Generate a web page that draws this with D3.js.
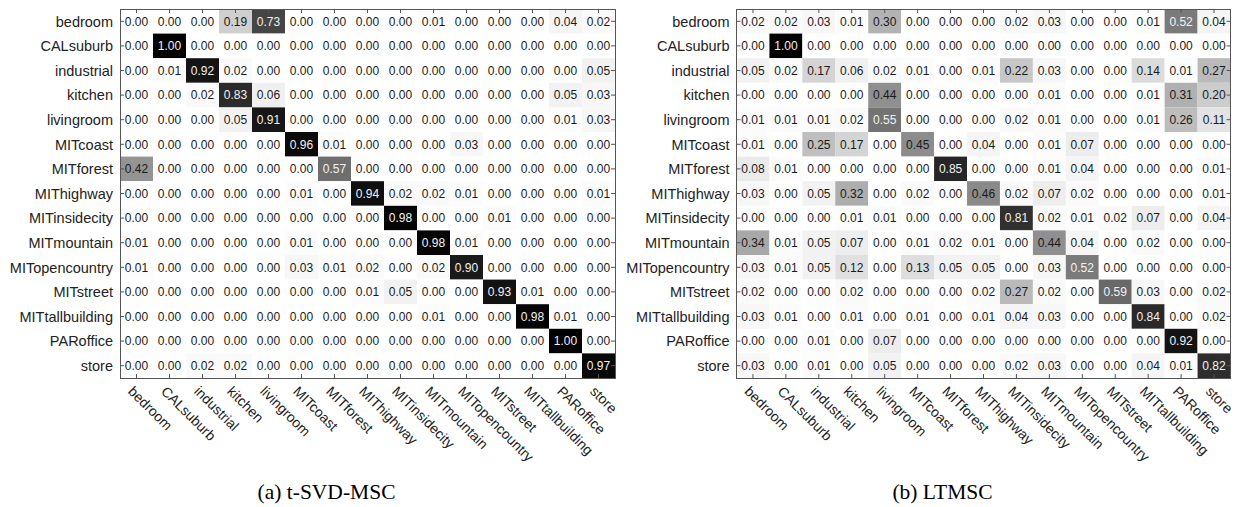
<!DOCTYPE html>
<html>
<head>
<meta charset="utf-8">
<script src="https://cdn.jsdelivr.net/npm/d3@7"></script>
<style>
  html, body { margin: 0; padding: 0; background: #fff; }
  svg { display: block; }
</style>
</head>
<body>
<svg id="chart" width="1235" height="507"></svg>
<script>
// Scene categories (rows = true class, columns = predicted class)
const categories = [
  "bedroom", "CALsuburb", "industrial", "kitchen", "livingroom",
  "MITcoast", "MITforest", "MIThighway", "MITinsidecity", "MITmountain",
  "MITopencountry", "MITstreet", "MITtallbuilding", "PARoffice", "store"
];

// Confusion matrix for t-SVD-MSC
const tsvdMatrix = [
  [0.00, 0.00, 0.00, 0.19, 0.73, 0.00, 0.00, 0.00, 0.00, 0.01, 0.00, 0.00, 0.00, 0.04, 0.02],
  [0.00, 1.00, 0.00, 0.00, 0.00, 0.00, 0.00, 0.00, 0.00, 0.00, 0.00, 0.00, 0.00, 0.00, 0.00],
  [0.00, 0.01, 0.92, 0.02, 0.00, 0.00, 0.00, 0.00, 0.00, 0.00, 0.00, 0.00, 0.00, 0.00, 0.05],
  [0.00, 0.00, 0.02, 0.83, 0.06, 0.00, 0.00, 0.00, 0.00, 0.00, 0.00, 0.00, 0.00, 0.05, 0.03],
  [0.00, 0.00, 0.00, 0.05, 0.91, 0.00, 0.00, 0.00, 0.00, 0.00, 0.00, 0.00, 0.00, 0.01, 0.03],
  [0.00, 0.00, 0.00, 0.00, 0.00, 0.96, 0.01, 0.00, 0.00, 0.00, 0.03, 0.00, 0.00, 0.00, 0.00],
  [0.42, 0.00, 0.00, 0.00, 0.00, 0.00, 0.57, 0.00, 0.00, 0.00, 0.00, 0.00, 0.00, 0.00, 0.00],
  [0.00, 0.00, 0.00, 0.00, 0.00, 0.01, 0.00, 0.94, 0.02, 0.02, 0.01, 0.00, 0.00, 0.00, 0.01],
  [0.00, 0.00, 0.00, 0.00, 0.00, 0.00, 0.00, 0.00, 0.98, 0.00, 0.00, 0.01, 0.00, 0.00, 0.00],
  [0.01, 0.00, 0.00, 0.00, 0.00, 0.01, 0.00, 0.00, 0.00, 0.98, 0.01, 0.00, 0.00, 0.00, 0.00],
  [0.01, 0.00, 0.00, 0.00, 0.00, 0.03, 0.01, 0.02, 0.00, 0.02, 0.90, 0.00, 0.00, 0.00, 0.00],
  [0.00, 0.00, 0.00, 0.00, 0.00, 0.00, 0.00, 0.01, 0.05, 0.00, 0.00, 0.93, 0.01, 0.00, 0.00],
  [0.00, 0.00, 0.00, 0.00, 0.00, 0.00, 0.00, 0.00, 0.00, 0.01, 0.00, 0.00, 0.98, 0.01, 0.00],
  [0.00, 0.00, 0.00, 0.00, 0.00, 0.00, 0.00, 0.00, 0.00, 0.00, 0.00, 0.00, 0.00, 1.00, 0.00],
  [0.00, 0.00, 0.02, 0.02, 0.00, 0.00, 0.00, 0.00, 0.00, 0.00, 0.00, 0.00, 0.00, 0.00, 0.97]
];

// Confusion matrix for LTMSC
const ltmscMatrix = [
  [0.02, 0.02, 0.03, 0.01, 0.30, 0.00, 0.00, 0.00, 0.02, 0.03, 0.00, 0.00, 0.01, 0.52, 0.04],
  [0.00, 1.00, 0.00, 0.00, 0.00, 0.00, 0.00, 0.00, 0.00, 0.00, 0.00, 0.00, 0.00, 0.00, 0.00],
  [0.05, 0.02, 0.17, 0.06, 0.02, 0.01, 0.00, 0.01, 0.22, 0.03, 0.00, 0.00, 0.14, 0.01, 0.27],
  [0.00, 0.00, 0.00, 0.00, 0.44, 0.00, 0.00, 0.00, 0.00, 0.01, 0.00, 0.00, 0.01, 0.31, 0.20],
  [0.01, 0.01, 0.01, 0.02, 0.55, 0.00, 0.00, 0.00, 0.02, 0.01, 0.00, 0.00, 0.01, 0.26, 0.11],
  [0.01, 0.00, 0.25, 0.17, 0.00, 0.45, 0.00, 0.04, 0.00, 0.01, 0.07, 0.00, 0.00, 0.00, 0.00],
  [0.08, 0.01, 0.00, 0.00, 0.00, 0.00, 0.85, 0.00, 0.00, 0.01, 0.04, 0.00, 0.00, 0.00, 0.01],
  [0.03, 0.00, 0.05, 0.32, 0.00, 0.02, 0.00, 0.46, 0.02, 0.07, 0.02, 0.00, 0.00, 0.00, 0.01],
  [0.00, 0.00, 0.00, 0.01, 0.01, 0.00, 0.00, 0.00, 0.81, 0.02, 0.01, 0.02, 0.07, 0.00, 0.04],
  [0.34, 0.01, 0.05, 0.07, 0.00, 0.01, 0.02, 0.01, 0.00, 0.44, 0.04, 0.00, 0.02, 0.00, 0.00],
  [0.03, 0.01, 0.05, 0.12, 0.00, 0.13, 0.05, 0.05, 0.00, 0.03, 0.52, 0.00, 0.00, 0.00, 0.00],
  [0.02, 0.00, 0.00, 0.02, 0.00, 0.00, 0.00, 0.02, 0.27, 0.02, 0.00, 0.59, 0.03, 0.00, 0.02],
  [0.03, 0.01, 0.00, 0.01, 0.00, 0.01, 0.00, 0.01, 0.04, 0.03, 0.00, 0.00, 0.84, 0.00, 0.02],
  [0.00, 0.00, 0.01, 0.00, 0.07, 0.00, 0.00, 0.00, 0.00, 0.00, 0.00, 0.00, 0.00, 0.92, 0.00],
  [0.03, 0.00, 0.01, 0.00, 0.05, 0.00, 0.00, 0.00, 0.02, 0.03, 0.00, 0.00, 0.04, 0.01, 0.82]
];

const captions = ["(a) t-SVD-MSC", "(b) LTMSC"];

const svg = d3.select("#chart");
const sansFont = "'Liberation Sans', Arial, Helvetica, sans-serif";
const serifFont = "'Liberation Serif', 'Times New Roman', serif";

const plotTop = 9, plotBottom = 378;
const panels = [
  { matrix: tsvdMatrix, left: 120, right: 615, caption: captions[0] },
  { matrix: ltmscMatrix, left: 736.5, right: 1230.5, caption: captions[1] }
];

// Gray colormap: 0 -> white, 1 -> black
const shade = d3.scaleLinear().domain([0, 1]).range(["#ffffff", "#000000"]);
const axisColor = "#555";
const tickLen = 4;

panels.forEach(p => {
  const x = d3.scaleBand().domain(categories).range([p.left, p.right]);
  const y = d3.scaleBand().domain(categories).range([plotTop, plotBottom]);
  const g = svg.append("g");

  const cells = p.matrix.flatMap((row, i) =>
    row.map((v, j) => ({ r: categories[i], c: categories[j], v })));

  // heat cells
  g.append("g").selectAll("rect")
    .data(cells)
    .join("rect")
    .attr("x", d => x(d.c))
    .attr("y", d => y(d.r))
    .attr("width", x.bandwidth())
    .attr("height", y.bandwidth())
    .attr("fill", d => shade(d.v));

  // value annotations
  g.append("g").selectAll("text")
    .data(cells)
    .join("text")
    .attr("x", d => x(d.c) + x.bandwidth() / 2)
    .attr("y", d => y(d.r) + y.bandwidth() / 2)
    .attr("dy", "0.36em")
    .attr("text-anchor", "middle")
    .attr("font-family", sansFont)
    .attr("font-size", "12px")
    .attr("fill", d => d.v > 0.5 ? "#f2f2f2" : "#1a1a1a")
    .text(d => d.v.toFixed(2));

  // box axes with inward ticks on all four sides
  const axisG = g.append("g").attr("fill", "none").attr("stroke", axisColor).attr("stroke-width", 1);
  axisG.append("rect")
    .attr("x", p.left).attr("y", plotTop)
    .attr("width", p.right - p.left).attr("height", plotBottom - plotTop)
    .attr("shape-rendering", "crispEdges");

  const xc = c => x(c) + x.bandwidth() / 2;
  const yc = r => y(r) + y.bandwidth() / 2;
  categories.forEach(c => {
    axisG.append("line").attr("x1", xc(c)).attr("x2", xc(c)).attr("y1", plotTop).attr("y2", plotTop + tickLen);
    axisG.append("line").attr("x1", xc(c)).attr("x2", xc(c)).attr("y1", plotBottom).attr("y2", plotBottom - tickLen);
    axisG.append("line").attr("y1", yc(c)).attr("y2", yc(c)).attr("x1", p.left).attr("x2", p.left + tickLen);
    axisG.append("line").attr("y1", yc(c)).attr("y2", yc(c)).attr("x1", p.right).attr("x2", p.right - tickLen);
  });

  // row labels
  g.append("g").selectAll("text")
    .data(categories)
    .join("text")
    .attr("x", p.left - 7)
    .attr("y", d => yc(d))
    .attr("dy", "0.36em")
    .attr("text-anchor", "end")
    .attr("font-family", sansFont)
    .attr("font-size", "14.5px")
    .attr("fill", "#222")
    .text(d => d);

  // rotated column labels
  g.append("g").selectAll("text")
    .data(categories)
    .join("text")
    .attr("transform", d => `translate(${xc(d) - 2},${plotBottom + 7}) rotate(45)`)
    .attr("dy", "0.72em")
    .attr("text-anchor", "start")
    .attr("font-family", sansFont)
    .attr("font-size", "14px")
    .attr("fill", "#222")
    .text(d => d);

  // sub-figure caption
  g.append("text")
    .attr("x", (p.left + p.right) / 2 - 41)
    .attr("y", 499)
    .attr("text-anchor", "middle")
    .attr("font-family", serifFont)
    .attr("font-size", "21.5px")
    .attr("fill", "#000")
    .text(p.caption);
});
</script>
</body>
</html>
